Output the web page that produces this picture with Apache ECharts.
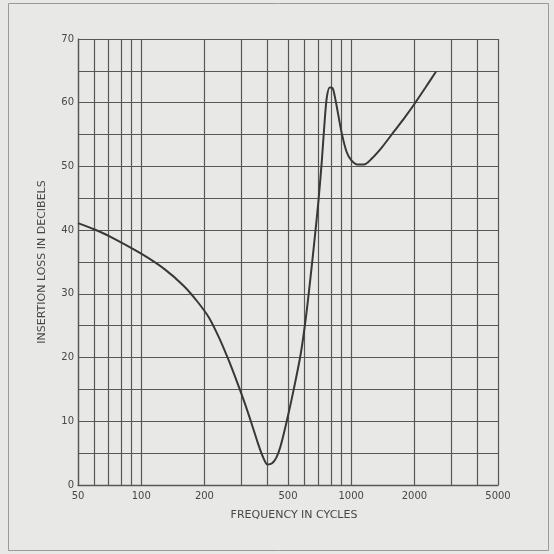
<!DOCTYPE html>
<html>
<head>
<meta charset="utf-8">
<script src="https://cdn.jsdelivr.net/npm/echarts@6/dist/echarts.min.js"></script>
<style>
html,body{margin:0;padding:0;background:#e8e8e6;}
#c{width:554px;height:554px;}
</style>
</head>
<body>
<div id="c"></div>
<script>
// Frequency (cycles) and insertion loss (dB)
var frequency = [50, 60, 70, 100, 130, 160, 185, 210, 235, 260, 285, 310, 335, 360, 380, 400, 420, 440, 460, 490, 530, 575, 610, 640, 670, 700, 725, 745, 765, 790, 815, 835, 860, 900, 950, 1000, 1070, 1150, 1250, 1400, 1600, 1800, 2000, 2250, 2535];
var loss      = [41.1, 40.1, 39.1, 36.3, 33.8, 31.2, 28.8, 26.3, 23.1, 19.7, 16.3, 13.0, 9.7, 6.5, 4.4, 3.2, 3.4, 4.3, 6.0, 9.6, 14.7, 20.6, 26.6, 32.6, 38.7, 45.0, 51.0, 56.5, 60.8, 62.4, 62.3, 61.0, 58.8, 55.3, 52.3, 51.0, 50.3, 50.3, 51.2, 53.0, 55.5, 57.7, 59.8, 62.3, 64.9];
var xTickLabels = [50, 100, 200, 500, 1000, 2000, 5000];
var xGridValues = [50, 60, 70, 80, 90, 100, 200, 300, 400, 500, 600, 700, 800, 900, 1000, 2000, 3000, 4000, 5000];
var yTickLabels = [0, 10, 20, 30, 40, 50, 60, 70];

var points = frequency.map(function (f, i) { return [f, loss[i]]; });
var gridColor = '#575757';
var textColor = '#474747';
var font = 'DejaVu Sans';

var chart = echarts.init(document.getElementById('c'), null, {renderer: 'canvas'});
chart.setOption({
  backgroundColor: '#e8e8e6',
  animation: false,
  graphic: [{
    type: 'rect',
    shape: {x: 8.5, y: 3.5, width: 540, height: 547},
    style: {fill: 'none', stroke: '#9a9a9a', lineWidth: 1}
  }],
  grid: {left: 78, right: 56, top: 39, bottom: 69},
  xAxis: {
    type: 'log',
    logBase: 10,
    min: 50,
    max: 5000,
    name: 'FREQUENCY IN CYCLES',
    nameLocation: 'middle',
    nameGap: 25,
    nameTextStyle: {color: textColor, fontSize: 11, fontFamily: font, padding: [0, 0, 0, 12]},
    axisLine: {show: true, lineStyle: {color: gridColor, width: 1.3}},
    axisTick: {show: false, customValues: xGridValues},
    axisLabel: {customValues: xTickLabels, color: textColor, fontSize: 10, fontFamily: font, margin: 6,
      formatter: function (v) { return String(Math.round(v)); }},
    splitLine: {show: true, lineStyle: {color: gridColor, width: 1.2}}
  },
  yAxis: {
    type: 'value',
    min: 0,
    max: 70,
    interval: 5,
    name: 'INSERTION LOSS IN DECIBELS',
    nameLocation: 'middle',
    nameGap: 30,
    nameTextStyle: {color: textColor, fontSize: 11, fontFamily: font},
    axisLine: {show: true, lineStyle: {color: gridColor, width: 1.3}},
    axisTick: {show: false},
    axisLabel: {color: textColor, fontSize: 10, fontFamily: font, margin: 4,
      formatter: function (v) { return yTickLabels.indexOf(v) >= 0 ? String(v) : ''; }},
    splitLine: {show: true, lineStyle: {color: gridColor, width: 1.2}}
  },
  series: [{
    type: 'line',
    data: points,
    smooth: 0.3,
    symbol: 'none',
    lineStyle: {color: '#383838', width: 2}
  }]
});
</script>
</body>
</html>
